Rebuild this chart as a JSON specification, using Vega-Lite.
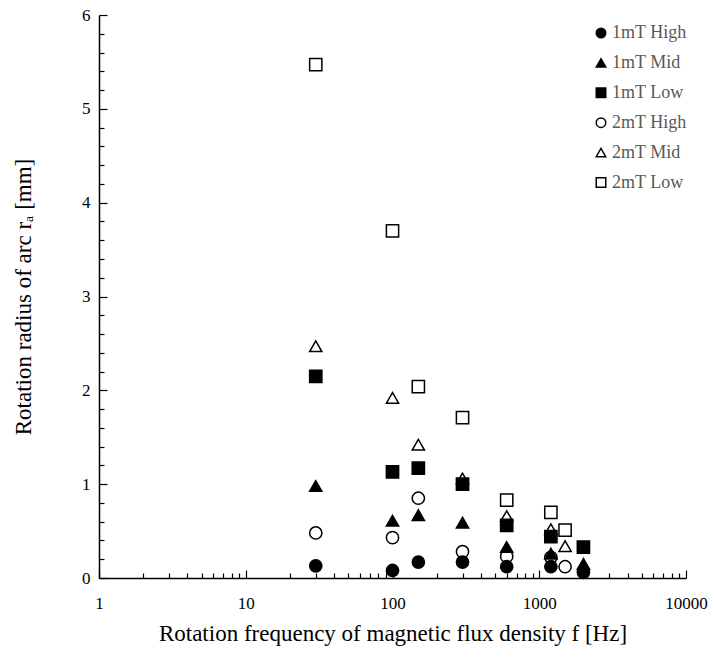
{
  "$schema": "https://vega.github.io/schema/vega-lite/v6.json",
  "width": 587,
  "height": 563,
  "autosize": {"type": "none"},
  "padding": {"left": 99, "top": 15, "right": 28, "bottom": 81},
  "background": "white",
  "config": {
    "view": {"stroke": null},
    "font": "Liberation Serif",
    "axis": {"grid": false, "domainColor": "black", "tickColor": "black", "labelColor": "black", "titleColor": "black", "labelFont": "Liberation Serif", "titleFont": "Liberation Serif", "labelFontSize": 17, "titleFontSize": 23, "titleFontWeight": "normal", "domainWidth": 1.5, "tickWidth": 1.2}
  },
  "data": {"values": [
    {"f": 30, "r": 5.47, "s": "2mT Low"},
    {"f": 100, "r": 3.70, "s": "2mT Low"},
    {"f": 150, "r": 2.04, "s": "2mT Low"},
    {"f": 300, "r": 1.71, "s": "2mT Low"},
    {"f": 600, "r": 0.83, "s": "2mT Low"},
    {"f": 1200, "r": 0.70, "s": "2mT Low"},
    {"f": 1500, "r": 0.51, "s": "2mT Low"},
    {"f": 30, "r": 2.47, "s": "2mT Mid"},
    {"f": 100, "r": 1.92, "s": "2mT Mid"},
    {"f": 150, "r": 1.42, "s": "2mT Mid"},
    {"f": 300, "r": 1.06, "s": "2mT Mid"},
    {"f": 600, "r": 0.66, "s": "2mT Mid"},
    {"f": 1200, "r": 0.52, "s": "2mT Mid"},
    {"f": 1500, "r": 0.34, "s": "2mT Mid"},
    {"f": 30, "r": 0.48, "s": "2mT High"},
    {"f": 100, "r": 0.43, "s": "2mT High"},
    {"f": 150, "r": 0.85, "s": "2mT High"},
    {"f": 300, "r": 0.28, "s": "2mT High"},
    {"f": 600, "r": 0.23, "s": "2mT High"},
    {"f": 1200, "r": 0.22, "s": "2mT High"},
    {"f": 1500, "r": 0.12, "s": "2mT High"},
    {"f": 30, "r": 2.15, "s": "1mT Low"},
    {"f": 100, "r": 1.13, "s": "1mT Low"},
    {"f": 150, "r": 1.17, "s": "1mT Low"},
    {"f": 300, "r": 1.00, "s": "1mT Low"},
    {"f": 600, "r": 0.56, "s": "1mT Low"},
    {"f": 1200, "r": 0.44, "s": "1mT Low"},
    {"f": 2000, "r": 0.33, "s": "1mT Low"},
    {"f": 30, "r": 0.98, "s": "1mT Mid"},
    {"f": 100, "r": 0.61, "s": "1mT Mid"},
    {"f": 150, "r": 0.67, "s": "1mT Mid"},
    {"f": 300, "r": 0.59, "s": "1mT Mid"},
    {"f": 600, "r": 0.33, "s": "1mT Mid"},
    {"f": 1200, "r": 0.26, "s": "1mT Mid"},
    {"f": 2000, "r": 0.15, "s": "1mT Mid"},
    {"f": 30, "r": 0.13, "s": "1mT High"},
    {"f": 100, "r": 0.08, "s": "1mT High"},
    {"f": 150, "r": 0.17, "s": "1mT High"},
    {"f": 300, "r": 0.17, "s": "1mT High"},
    {"f": 600, "r": 0.12, "s": "1mT High"},
    {"f": 1200, "r": 0.12, "s": "1mT High"},
    {"f": 2000, "r": 0.06, "s": "1mT High"}
  ]},
  "resolve": {"axis": {"x": "independent", "y": "independent"}},
  "layer": [
    {
      "mark": {"type": "point", "filled": true, "opacity": 0},
      "encoding": {
        "x": {
          "field": "f", "type": "quantitative",
          "scale": {"type": "log", "domain": [1, 10000], "nice": false},
          "axis": {
            "orient": "bottom",
            "title": null,
            "values": [2,3,4,5,6,7,8,9,20,30,40,50,60,70,80,90,200,300,400,500,600,700,800,900,2000,3000,4000,5000,6000,7000,8000,9000],
            "labels": false,
            "domain": false,
            "tickSize": -5
          }
        },
        "y": {
          "field": "r", "type": "quantitative",
          "scale": {"domain": [0, 6], "nice": false},
          "axis": {
            "orient": "left",
            "title": null,
            "values": [0.2,0.4,0.6,0.8,1.2,1.4,1.6,1.8,2.2,2.4,2.6,2.8,3.2,3.4,3.6,3.8,4.2,4.4,4.6,4.8,5.2,5.4,5.6,5.8],
            "labels": false,
            "domain": false,
            "tickSize": -5
          }
        }
      }
    },
    {
      "mark": {"type": "point", "filled": true, "size": 150, "strokeWidth": 1.5, "opacity": 1},
      "encoding": {
        "x": {
          "field": "f", "type": "quantitative",
          "scale": {"type": "log", "domain": [1, 10000], "nice": false},
          "axis": {
            "orient": "bottom",
            "title": "Rotation frequency of magnetic flux density f [Hz]",
            "values": [1, 10, 100, 1000, 10000],
            "format": "d",
            "labelOverlap": false,
            "labelFlush": false,
            "tickSize": -8,
            "labelPadding": 25,
            "titlePadding": 11
          }
        },
        "y": {
          "field": "r", "type": "quantitative",
          "scale": {"domain": [0, 6], "nice": false},
          "axis": {
            "orient": "left",
            "title": "Rotation radius of arc r\u2090 [mm]",
            "values": [0, 1, 2, 3, 4, 5, 6],
            "format": "d",
            "labelOverlap": false,
            "labelFlush": false,
            "tickSize": -8,
            "labelPadding": 17,
            "titlePadding": 46
          }
        },
        "stroke": {
          "field": "s", "type": "nominal",
          "scale": {"domain": ["1mT High", "1mT Mid", "1mT Low", "2mT High", "2mT Mid", "2mT Low"], "range": ["black", "black", "black", "black", "black", "black"]},
          "legend": {"title": null, "orient": "none", "legendX": 493, "legendY": 9, "labelFont": "Liberation Serif", "labelFontSize": 18, "labelColor": "#595959", "symbolSize": 90, "rowPadding": 11.9, "labelOffset": 2, "symbolStrokeWidth": 1.5}
        },
        "shape": {
          "field": "s", "type": "nominal",
          "scale": {"domain": ["1mT High", "1mT Mid", "1mT Low", "2mT High", "2mT Mid", "2mT Low"], "range": ["circle", "triangle-up", "square", "circle", "triangle-up", "square"]},
          "legend": {"title": null, "orient": "none", "legendX": 493, "legendY": 9, "labelFont": "Liberation Serif", "labelFontSize": 18, "labelColor": "#595959", "symbolSize": 90, "rowPadding": 11.9, "labelOffset": 2, "symbolStrokeWidth": 1.5}
        },
        "fill": {
          "field": "s", "type": "nominal",
          "scale": {"domain": ["1mT High", "1mT Mid", "1mT Low", "2mT High", "2mT Mid", "2mT Low"], "range": ["black", "black", "black", "white", "white", "white"]},
          "legend": {"title": null, "orient": "none", "legendX": 493, "legendY": 9, "labelFont": "Liberation Serif", "labelFontSize": 18, "labelColor": "#595959", "symbolSize": 90, "rowPadding": 11.9, "labelOffset": 2, "symbolStrokeWidth": 1.5}
        }
      }
    }
  ]
}
